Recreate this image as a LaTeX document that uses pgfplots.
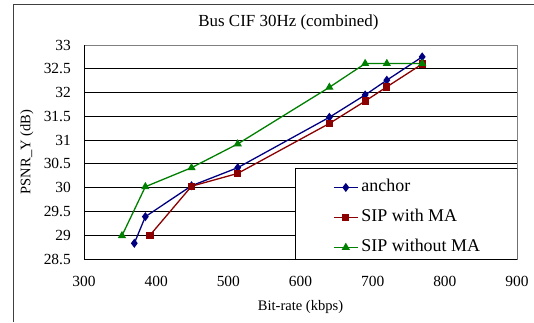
\documentclass[border=0pt]{standalone}
\usepackage{pgfplots}
\pgfplotsset{compat=1.18}
\usepackage{fontspec}
\setmainfont{Liberation Serif}
\definecolor{cA}{HTML}{000080}
\definecolor{cB}{HTML}{8B0000}
\definecolor{cC}{HTML}{008000}
\begin{document}
\begin{tikzpicture}[x=1bp,y=1bp]
\useasboundingbox (0,0) rectangle (534,322);
\fill[white] (0,0) rectangle (534,322);
\draw[line width=1bp, black!75] (13.5,0) -- (13.5,317.5) -- (534,317.5);
\begin{axis}[
 at={(84bp,63bp)}, anchor=south west, scale only axis,
 width=433bp, height=214bp,
 xmin=300, xmax=900, ymin=28.5, ymax=33,
 xtick={300,400,500,600,700,800,900},
 ytick={28.5,29,29.5,30,30.5,31,31.5,32,32.5,33},
 ymajorgrids,
 major grid style={black, line width=0.8bp},
 axis line style={draw=gray, line width=0.8bp},
 major tick length=0pt,
 /pgf/number format/assume math mode=true,
 tick label style={font=\fontsize{15.5}{17}\selectfont, inner sep=0pt},
 xticklabel style={anchor=north, yshift=-17bp},
 yticklabel style={anchor=east, xshift=-13bp},
 title={Bus CIF 30Hz (combined)},
 title style={at={(0.4723,1.0584)}, anchor=base, inner sep=0pt, font=\fontsize{17}{19}\selectfont},
 xlabel={Bit-rate (kbps)},
 xlabel style={at={(0.5,-0.2383)}, anchor=base, inner sep=0pt, font=\fontsize{14.6}{16}\selectfont},
 ylabel={PSNR\_Y (dB)},
 ylabel style={at={(-0.1236,0.5)}, anchor=base, inner sep=0pt, font=\fontsize{14.6}{16}\selectfont},
 legend cell align=left,
 legend style={draw=none, fill=none, at={(0.575,0.375)}, anchor=north west, inner sep=0pt,
   font=\fontsize{18}{20}\selectfont, row sep=13bp, column sep=3bp,
   nodes={inner sep=0pt, text height=13bp, text depth=4bp}},
 legend image code/.code={\draw[mark repeat=2,mark phase=2,#1] plot coordinates {(0bp,0bp) (12bp,0bp) (24bp,0bp)};},
]
\draw[fill=white, draw=black, line width=0.9bp] (rel axis cs:0.489,0) rectangle (rel axis cs:1,0.424);
\draw[black, line width=0.9bp] (rel axis cs:0,1) -- (rel axis cs:0,0) -- (rel axis cs:1,0);
\addplot[cA, line width=1.3bp, mark=diamond*, mark size=3.5bp, mark options={solid}] coordinates {
(369.7,28.83) (385,29.39) (449,30.04) (513,30.42) (640,31.48) (689.6,31.95) (719.6,32.26) (768.6,32.75)};
\addlegendentry{anchor}
\addplot[cB, line width=1.3bp, mark=square*, mark size=3bp] coordinates {
(391.4,29.0) (449,30.03) (513,30.3) (640,31.35) (689.6,31.82) (719.6,32.12) (768.6,32.6)};
\addlegendentry{SIP with MA}
\addplot[cC, line width=1.3bp, mark=triangle*, mark size=3.5bp] coordinates {
(352.6,28.99) (385,30.02) (449,30.42) (513,30.92) (640,32.11) (689.6,32.61) (719.6,32.61) (768.6,32.61)};
\addlegendentry{SIP without MA}
\end{axis}
\end{tikzpicture}
\end{document}
